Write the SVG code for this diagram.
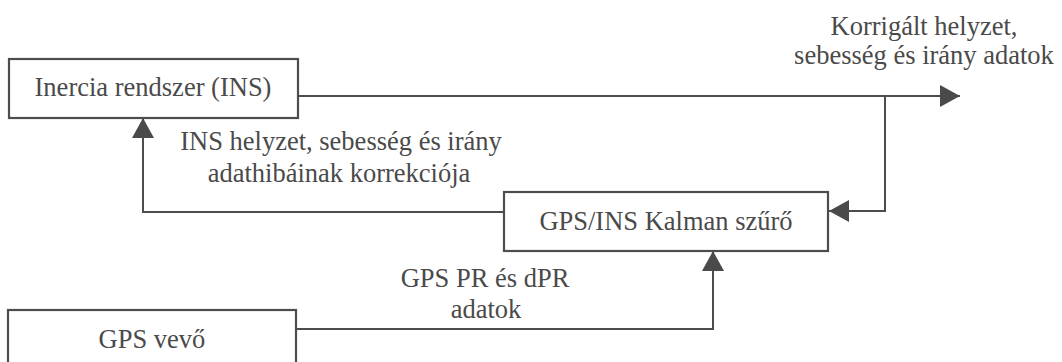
<svg xmlns="http://www.w3.org/2000/svg" width="1062" height="362" viewBox="0 0 1062 362">
  <style>
    .box { fill: #ffffff; stroke: #4d4d4d; stroke-width: 2.2; }
    .lbl { font-family: "Liberation Serif", "Times New Roman", serif; font-size: 26.5px; fill: #4a4a4a; text-anchor: middle; }
    .con { fill: none; stroke: #4d4d4d; stroke-width: 2; }
  </style>
  <defs>
    <marker id="arr" markerUnits="userSpaceOnUse" markerWidth="22" markerHeight="24" refX="20" refY="11" orient="auto">
      <path d="M0,0 L20,11 L0,22 z" fill="#4a4a4a"/>
    </marker>
  </defs>
  <rect width="1062" height="362" fill="#ffffff"/>

  <g id="connectors">
    <path class="con" d="M298,96 L960,96" marker-end="url(#arr)"/>
    <path class="con" d="M885,96 L885,211 L829,211" marker-end="url(#arr)"/>
    <path class="con" d="M504,212 L143,212 L143,118" marker-end="url(#arr)"/>
    <path class="con" d="M296,329 L713,329 L713,251" marker-end="url(#arr)"/>
  </g>

  <g id="ins">
    <rect class="box" x="9" y="59" width="289" height="59"/>
    <text class="lbl" x="153" y="96">Inercia rendszer (INS)</text>
  </g>

  <g id="kalman">
    <rect class="box" x="504" y="192" width="324" height="59"/>
    <text class="lbl" x="666" y="230">GPS/INS Kalman szűrő</text>
  </g>

  <g id="gps">
    <rect class="box" x="8" y="310" width="288" height="70"/>
    <text class="lbl" x="152" y="348">GPS vevő</text>
  </g>

  <g id="labels">
    <text class="lbl" x="924" y="35">Korrigált helyzet,</text>
    <text class="lbl" x="924" y="64">sebesség és irány adatok</text>
    <text class="lbl" x="341" y="150">INS helyzet, sebesség és irány</text>
    <text class="lbl" x="339" y="182">adathibáinak korrekciója</text>
    <text class="lbl" x="485" y="287">GPS PR és dPR</text>
    <text class="lbl" x="486" y="318">adatok</text>
  </g>
</svg>
